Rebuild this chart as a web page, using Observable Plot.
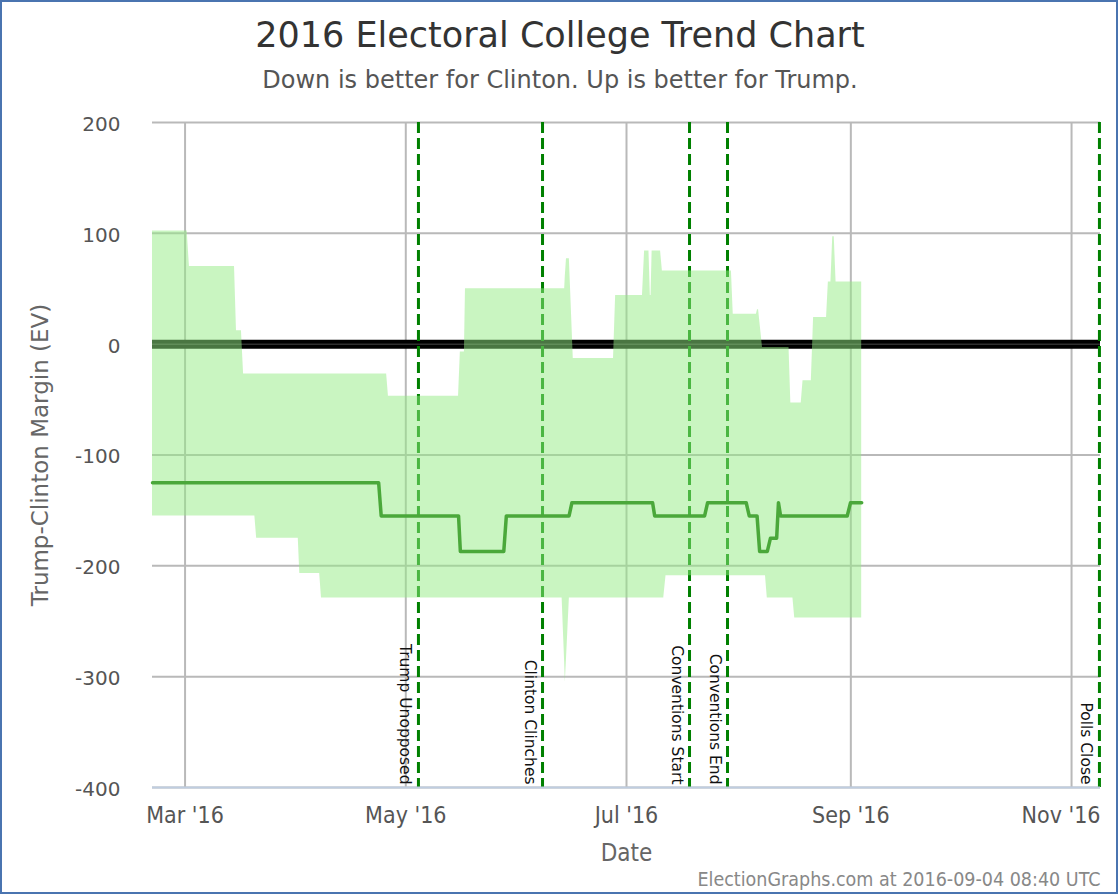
<!DOCTYPE html>
<html>
<head>
<meta charset="utf-8">
<script src="https://cdn.jsdelivr.net/npm/d3@7"></script>
<script src="https://cdn.jsdelivr.net/npm/@observablehq/plot@0.6"></script>
<style>
  body { margin: 0; background: #fff; }
  #wrap { position: relative; width: 1120px; height: 896px; overflow: hidden; background: #fff; }
  #frame { position: absolute; left: 0; top: 0; width: 1118px; height: 894px; box-sizing: border-box; border: 2px solid #4a74b0; pointer-events: none; }
  #title { position: absolute; left: 0; top: 15px; width: 1120px; text-align: center; font-family: "DejaVu Sans"; font-size: 35px; line-height: 40px; color: #333; }
  #subtitle { position: absolute; left: 0; top: 67px; width: 1120px; text-align: center; font-family: "DejaVu Sans"; font-size: 24px; line-height: 26px; color: #555; }
  #plot { position: absolute; left: 0; top: 100px; }
</style>
</head>
<body>
<div id="wrap">
  <div id="title">2016 Electoral College Trend Chart</div>
  <div id="subtitle">Down is better for Clinton. Up is better for Trump.</div>
  <div id="plot"></div>
  <div id="frame"></div>
</div>
<script>
// ---- Data ----
const bandDates = [
  "2016-02-21T00:00Z","2016-03-01T14:00Z","2016-03-02T05:00Z","2016-03-14T16:00Z","2016-03-15T05:00Z",
  "2016-03-16T14:00Z","2016-03-17T04:00Z","2016-03-20T07:00Z","2016-03-20T19:00Z","2016-04-01T07:00Z",
  "2016-04-01T17:00Z","2016-04-07T05:00Z","2016-04-07T17:00Z","2016-04-25T17:00Z","2016-04-26T05:00Z",
  "2016-05-15T14:00Z","2016-05-16T02:00Z","2016-05-17T05:00Z","2016-05-17T12:00Z","2016-06-13T05:00Z",
  "2016-06-13T22:00Z","2016-06-14T02:00Z","2016-06-14T10:00Z","2016-06-15T05:00Z","2016-06-16T07:00Z",
  "2016-06-27T10:00Z","2016-06-28T00:00Z","2016-07-05T10:00Z","2016-07-06T00:00Z","2016-07-07T05:00Z",
  "2016-07-07T14:00Z","2016-07-07T19:00Z","2016-07-08T02:00Z","2016-07-10T10:00Z","2016-07-10T22:00Z",
  "2016-07-11T07:00Z","2016-07-11T22:00Z","2016-07-30T00:00Z","2016-07-30T12:00Z","2016-08-05T22:00Z",
  "2016-08-06T05:00Z","2016-08-06T12:00Z","2016-08-07T14:00Z","2016-08-08T10:00Z","2016-08-08T22:00Z",
  "2016-08-14T22:00Z","2016-08-15T10:00Z","2016-08-16T00:00Z","2016-08-16T12:00Z","2016-08-18T07:00Z",
  "2016-08-18T19:00Z","2016-08-21T02:00Z","2016-08-21T17:00Z","2016-08-25T07:00Z","2016-08-25T19:00Z",
  "2016-08-26T12:00Z","2016-08-27T00:00Z","2016-08-27T10:00Z","2016-08-27T22:00Z","2016-09-04T00:00Z"
];
const bandLow = [
  -155,-155,-155,-155,-155,
  -155,-155,-155,-175,-175,
  -207,-207,-229,-229,-229,
  -229,-229,-229,-229,-229,
  -288,-305,-284,-229,-229,
  -229,-229,-229,-229,-229,
  -229,-229,-229,-229,-229,
  -229,-209,-209,-209,-209,
  -209,-209,-209,-209,-229,
  -229,-229,-229,-247,-247,
  -247,-247,-247,-247,-247,
  -247,-247,-247,-247,-247
];
const bandHigh = [
  102,102,70,70,12,
  12,-27,-27,-27,-27,
  -27,-27,-27,-27,-47,
  -47,-7,-7,50,50,
  50,61,77,77,-13,
  -13,44,44,84,84,
  44,44,84,84,66,
  66,66,66,27,27,
  31,31,-3,-3,-3,
  -3,-53,-53,-53,-53,
  -33,-33,24,24,56,
  56,97,97,56,56
];

const medianDates = [
  "2016-02-21T00:00Z","2016-04-23T12:00Z","2016-04-24T05:00Z","2016-05-15T14:00Z","2016-05-16T02:00Z",
  "2016-05-28T02:00Z","2016-05-28T19:00Z","2016-06-15T03:00Z","2016-06-15T22:00Z","2016-07-08T05:00Z",
  "2016-07-08T19:00Z","2016-07-22T14:00Z","2016-07-23T10:00Z","2016-08-03T02:00Z","2016-08-03T22:00Z",
  "2016-08-06T02:00Z","2016-08-06T19:00Z","2016-08-08T22:00Z","2016-08-09T19:00Z","2016-08-11T12:00Z",
  "2016-08-12T00:00Z","2016-08-12T14:00Z","2016-08-31T00:00Z","2016-08-31T22:00Z","2016-09-04T00:00Z"
];
const medianValues = [
  -125,-125,-155,-155,-187,
  -187,-155,-155,-143,-143,
  -155,-155,-143,-143,-155,
  -155,-187,-187,-175,-175,
  -143,-155,-155,-143,-143
];

const eventDates = ["2016-05-04T12:00Z","2016-06-07T19:00Z","2016-07-18T10:00Z","2016-07-28T22:00Z","2016-11-08T17:00Z"];
const eventLabels = ["Trump Unopposed","Clinton Clinches","Conventions Start","Conventions End","Polls Close"];

const xTickDates = ["2016-03-01T00:00Z","2016-05-01T00:00Z","2016-07-01T00:00Z","2016-09-01T00:00Z","2016-11-01T00:00Z"];
const xTickLabels = ["Mar '16","May '16","Jul '16","Sep '16","Nov '16"];

const yTickValues = [200,100,0,-100,-200,-300,-400];
const yTickLabels = ["200","100","0","-100","-200","-300","-400"];

const xDomain = ["2016-02-21T00:00Z","2016-11-09T00:00Z"];
const yDomain = [-400, 200];

const yLabel = "Trump-Clinton Margin (EV)";
const xLabel = "Date";
const footer = "ElectionGraphs.com at 2016-09-04 08:40 UTC";

// ---- Tables ----
const band = bandDates.map((d, i) => ({date: new Date(d), lo: bandLow[i], hi: bandHigh[i]}));
const median = medianDates.map((d, i) => ({date: new Date(d), v: medianValues[i]}));
const events = eventDates.map((d, i) => ({date: new Date(d), label: eventLabels[i]}));
const xTicks = xTickDates.map((d, i) => ({date: new Date(d), label: xTickLabels[i]}));
const yTicks = yTickValues.map((v, i) => ({v, label: yTickLabels[i]}));

const tickText = {fontSize: 23, fontFamily: "DejaVu Sans Condensed", fill: "#555"};

const chart = Plot.plot({
  width: 1120,
  height: 796,
  marginTop: 22,
  marginBottom: 109,
  marginLeft: 152,
  marginRight: 20,
  x: {type: "utc", domain: xDomain.map(d => new Date(d)), axis: null},
  y: {domain: yDomain, axis: null},
  style: {fontFamily: "DejaVu Sans", background: "white", overflow: "visible"},
  marks: [
    Plot.ruleY(yTicks, {y: "v", stroke: "#b9b9b9", strokeWidth: 2}),
    Plot.ruleX(xTicks, {x: "date", stroke: "#b9b9b9", strokeWidth: 2}),
    Plot.ruleY([0], {stroke: "#000", strokeWidth: 9}),
    Plot.ruleY([0], {stroke: "#bbb", strokeOpacity: 0.25, strokeWidth: 1.5}),
    Plot.ruleX(events, {x: "date", stroke: "#008000", strokeWidth: 3, strokeDasharray: "11,5"}),
    Plot.areaY(band, {x: "date", y1: "lo", y2: "hi", fill: "#93eb83", fillOpacity: 0.5, curve: "linear"}),
    Plot.line(median, {x: "date", y: "v", stroke: "#4aa83a", strokeWidth: 3.5, curve: "linear"}),
    Plot.ruleY([-400], {stroke: "#bfcde0", strokeWidth: 2}),
    Plot.text(yTicks, {y: "v", text: "label", frameAnchor: "left", dx: -32, dy: 2, textAnchor: "end", fontSize: 20, fill: "#555"}),
    Plot.text(xTicks.slice(0, -1), {x: "date", text: "label", frameAnchor: "bottom", dy: 35, ...tickText}),
    Plot.text(xTicks.slice(-1), {text: "label", frameAnchor: "bottom-right", textAnchor: "end", dy: 35, ...tickText}),
    Plot.text(events, {x: "date", text: "label", frameAnchor: "bottom", rotate: 90, textAnchor: "end", lineAnchor: "bottom", dx: -18, dy: -3, fontSize: 15.5, fill: "#111"}),
    Plot.text([yLabel], {text: d => d, frameAnchor: "left", rotate: -90, textAnchor: "middle", dx: -112, fontSize: 23, fill: "#666"}),
    Plot.text([xLabel], {text: d => d, frameAnchor: "bottom", dy: 73, fontSize: 24, fontFamily: "DejaVu Sans Condensed", fill: "#666"}),
    Plot.text([footer], {text: d => d, frameAnchor: "bottom-right", textAnchor: "end", dy: 98, fontSize: 19.5, fontFamily: "DejaVu Sans Condensed", fill: "#888"})
  ]
});
document.getElementById("plot").appendChild(chart);
</script>
</body>
</html>
